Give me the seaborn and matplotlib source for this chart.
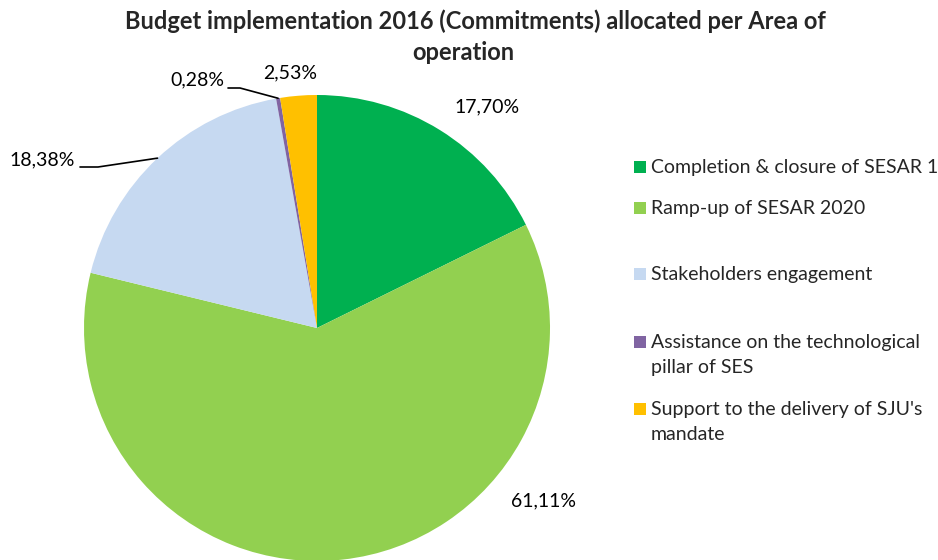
import numpy as np
import matplotlib
matplotlib.use("Agg")
import matplotlib.pyplot as plt
from matplotlib.patches import Rectangle
import seaborn as sns

# ---- data ----
categories = [
    "Completion & closure of SESAR 1",
    "Ramp-up of SESAR 2020",
    "Stakeholders engagement",
    "Assistance on the technological\npillar of SES",
    "Support to the delivery of SJU's\nmandate",
]
values = [17.70, 61.11, 18.38, 0.28, 2.53]
pct_labels = ["17,70%", "61,11%", "18,38%", "0,28%", "2,53%"]
colors = sns.color_palette(["#00B050", "#92D050", "#C6D9F1", "#8064A2", "#FFC000"])
title_lines = ["Budget implementation 2016 (Commitments) allocated per Area of",
               "operation"]

sns.set_theme(style="white")
FONT = ["Lato", "DejaVu Sans"]
plt.rcParams["font.family"] = FONT

W, H = 938, 560
fig = plt.figure(figsize=(W / 100, H / 100), dpi=100)

cx, cy, R = 317, 328, 233
ax = fig.add_axes([(cx - R) / W, (H - cy - R) / H, 2 * R / W, 2 * R / H])
wedges, _ = ax.pie(values, colors=colors, startangle=90, counterclock=False,
                   radius=1.0, wedgeprops=dict(linewidth=0))
ax.set_xlim(-1, 1)
ax.set_ylim(-1, 1)
ax.set_aspect("equal")
ax.axis("off")

def px2d(px, py):
    return ((px - cx) / R, (cy - py) / R)

# label positions (pixel centers in figure)
label_pos = [(487, 107), (543, 501), (42, 160), (197, 80), (290, 73)]
fs = 14
for i, (lab, (px, py)) in enumerate(zip(pct_labels, label_pos)):
    x, y = px2d(px, py)
    ax.text(x, y, lab, ha="center", va="center", fontsize=fs, color="#000000",
            clip_on=False)

# leader lines for 18,38% and 0,28%
cum = np.cumsum([0] + values)
def mid_angle(i):
    frac = (cum[i] + values[i] / 2) / 100.0
    return np.deg2rad(90 - 360 * frac)

leaders = {2: [(80, 167), (98, 167)], 3: [(228, 88), (240, 88)]}
for i, pts in leaders.items():
    a = mid_angle(i)
    tip = (np.cos(a), np.sin(a))
    p0 = px2d(*pts[0]); p1 = px2d(*pts[1])
    ax.plot([p0[0], p1[0], tip[0]], [p0[1], p1[1], tip[1]], color="black",
            lw=1.2, clip_on=False)

fig.text(475 / W, 1 - 21 / H, title_lines[0], ha="center", va="center",
         fontsize=17, fontweight="bold")
fig.text(463 / W, 1 - 52 / H, title_lines[1], ha="center", va="center",
         fontsize=17, fontweight="bold")

# legend
leg_y = [167, 208, 274, 342, 409]
for lab, c, y in zip(categories, colors, leg_y):
    fig.patches.append(Rectangle((634 / W, 1 - (y + 6) / H), 12 / W, 12 / H,
                                 transform=fig.transFigure, facecolor=c,
                                 edgecolor="none"))
    fig.text(651 / W, 1 - (y - 8) / H, lab, ha="left", va="top", fontsize=fs,
             linespacing=1.6)

fig.savefig("out.png", dpi=100, facecolor="white")
